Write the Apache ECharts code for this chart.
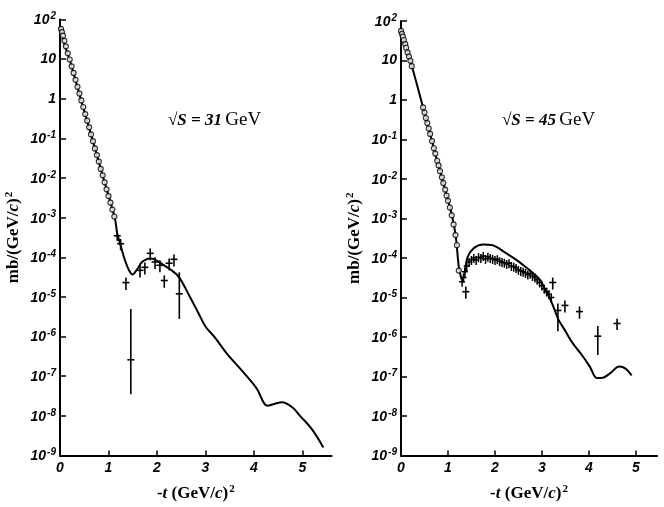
<!DOCTYPE html>
<html>
<head>
<meta charset="utf-8">
<script src="https://cdn.jsdelivr.net/npm/echarts@6/dist/echarts.min.js"></script>
<style>
html,body{margin:0;padding:0;background:#fff;}
#chart{width:664px;height:507px;}
</style>
</head>
<body>
<div id="chart"></div>
<script>
// ---------- data ----------
var xTicks = [0, 1, 2, 3, 4, 5];
var panelTitles = ['31', '45'];

// Left panel (sqrt(s) = 31 GeV): theory curve [t, dsigma/dt]
var curve31 = [
  [0.00, 70], [0.05, 40], [0.10, 22], [0.20, 9.6], [0.45, 0.8], [0.70, 0.07],
  [0.89, 0.0105], [1.13, 0.00098], [1.18, 4.0e-4], [1.25, 2.0e-4], [1.32, 1.0e-4],
  [1.42, 4.8e-5], [1.50, 3.7e-5], [1.59, 5.0e-5], [1.69, 7.6e-5], [1.78, 8.9e-5],
  [1.86, 9.3e-5], [1.96, 8.7e-5], [2.12, 6.6e-5], [2.30, 4.7e-5], [2.45, 3.2e-5],
  [2.68, 1.0e-5], [2.85, 4.0e-6], [3.00, 1.8e-6], [3.20, 9.3e-7], [3.44, 3.7e-7],
  [3.77, 1.3e-7], [4.05, 5.0e-8], [4.28, 1.8e-8], [4.42, 2.0e-8], [4.58, 2.2e-8],
  [4.80, 1.6e-8], [4.95, 1.0e-8], [5.20, 4.5e-9], [5.43, 1.6e-9]
];
// Left panel: open-circle data
var circles31 = [
  [0.02, 58], [0.04, 48], [0.06, 39], [0.09, 29], [0.12, 21], [0.16, 14], [0.20, 9.8],
  [0.24, 6.6], [0.28, 4.5], [0.32, 3.0], [0.36, 2.0], [0.40, 1.35], [0.44, 0.91],
  [0.48, 0.62], [0.52, 0.41], [0.56, 0.28], [0.60, 0.19], [0.64, 0.126], [0.68, 0.085],
  [0.72, 0.056], [0.76, 0.038], [0.80, 0.026], [0.84, 0.017], [0.88, 0.0117],
  [0.92, 0.0078], [0.96, 0.0052], [1.00, 0.0035], [1.04, 0.0024], [1.08, 0.0016],
  [1.12, 0.00107]
];
// Left panel: points with error bars [t, value, low, high]
var errors31 = [
  [1.18, 3.5e-4, 2.6e-4, 4.5e-4], [1.25, 2.2e-4, 1.5e-4, 2.9e-4],
  [1.36, 2.3e-5, 1.5e-5, 3.1e-5], [1.46, 2.6e-7, 3.5e-8, 5.0e-6],
  [1.65, 4.7e-5, 3.1e-5, 6.2e-5], [1.75, 5.6e-5, 3.7e-5, 7.4e-5],
  [1.86, 1.26e-4, 8.4e-5, 1.68e-4], [1.96, 7.6e-5, 5.1e-5, 1.0e-4],
  [2.06, 6.3e-5, 4.2e-5, 8.4e-5], [2.15, 2.6e-5, 1.7e-5, 3.5e-5],
  [2.25, 7.1e-5, 4.7e-5, 9.4e-5], [2.35, 8.9e-5, 5.9e-5, 1.18e-4],
  [2.46, 1.2e-5, 2.8e-6, 4.2e-5]
];

// Right panel (sqrt(s) = 45 GeV): theory curve
var curve45 = [
  [0.00, 56], [0.10, 24], [0.20, 9.8], [0.47, 0.65], [0.62, 0.138], [0.77, 0.029],
  [0.92, 0.0066], [1.09, 0.00112], [1.17, 3.2e-4], [1.23, 6.0e-5], [1.28, 3.2e-5],
  [1.31, 2.7e-5], [1.35, 4.0e-5], [1.42, 1.07e-4], [1.55, 1.78e-4], [1.75, 2.2e-4],
  [1.95, 2.1e-4], [2.20, 1.41e-4], [2.57, 7.1e-5], [2.94, 3.0e-5], [3.05, 1.78e-5],
  [3.20, 7.9e-6], [3.35, 2.8e-6], [3.50, 1.41e-6], [3.65, 7.1e-7], [3.85, 3.5e-7],
  [4.02, 1.78e-7], [4.17, 9.1e-8], [4.30, 9.3e-8], [4.45, 1.2e-7], [4.65, 1.78e-7],
  [4.78, 1.58e-7], [4.91, 1.07e-7]
];
var circles45 = [
  [0.00, 56], [0.02, 47], [0.04, 40], [0.06, 33], [0.09, 26], [0.11, 21], [0.14, 16],
  [0.17, 12.6], [0.20, 9.8], [0.23, 7.2], [0.47, 0.65], [0.50, 0.48], [0.53, 0.35],
  [0.56, 0.26], [0.59, 0.19], [0.62, 0.138], [0.66, 0.091], [0.70, 0.06], [0.73, 0.044],
  [0.77, 0.029], [0.80, 0.022], [0.83, 0.0158], [0.87, 0.011], [0.90, 0.0079],
  [0.94, 0.0054], [0.97, 0.0038], [1.00, 0.0028], [1.04, 0.0019], [1.08, 0.0012],
  [1.12, 7.1e-4], [1.16, 3.8e-4], [1.19, 2.1e-4], [1.23, 4.8e-5]
];
// Right panel: dense small crosses
var crosses45 = [
  [1.30, 2.5e-5], [1.33, 3.2e-5], [1.36, 4.5e-5],
  [1.40, 6.3e-5], [1.45, 7.9e-5], [1.50, 8.9e-5], [1.55, 1.0e-4], [1.60, 8.9e-5],
  [1.65, 1.05e-4], [1.70, 1.0e-4], [1.75, 1.12e-4], [1.80, 9.5e-5], [1.85, 1.07e-4],
  [1.90, 1.0e-4], [1.95, 9.5e-5], [2.00, 8.9e-5], [2.05, 9.3e-5], [2.10, 8.3e-5],
  [2.15, 7.9e-5], [2.20, 7.6e-5], [2.25, 7.1e-5], [2.30, 7.4e-5], [2.35, 6.3e-5],
  [2.40, 6.0e-5], [2.45, 5.6e-5], [2.50, 5.0e-5], [2.55, 4.7e-5], [2.60, 4.5e-5],
  [2.65, 4.2e-5], [2.70, 3.8e-5], [2.75, 4.0e-5], [2.80, 3.5e-5], [2.85, 3.2e-5],
  [2.90, 2.8e-5], [2.95, 2.4e-5], [3.00, 2.0e-5], [3.05, 1.66e-5], [3.10, 1.41e-5],
  [3.15, 1.2e-5], [3.20, 1.0e-5]
];
var errors45 = [
  [1.38, 1.4e-5, 9.3e-6, 1.9e-5], [3.23, 2.4e-5, 1.6e-5, 3.2e-5],
  [3.34, 4.7e-6, 1.4e-6, 7.1e-6], [3.49, 6.3e-6, 4.2e-6, 8.4e-6],
  [3.80, 4.4e-6, 2.9e-6, 5.9e-6], [4.19, 1.05e-6, 3.5e-7, 1.9e-6],
  [4.60, 2.2e-6, 1.5e-6, 2.9e-6]
];

// ---------- chart ----------
var chart = echarts.init(document.getElementById('chart'), null, {renderer: 'canvas'});

var tickFont = 'Liberation Sans';
function yLabel(v) {
  var e = Math.round(Math.log10(v));
  if (e === 0) return '{b|1}';
  if (e === 1) return '{b|10}';
  return '{b|10}{s|' + (e < 0 ? '-' + (-e) : e) + '}';
}
var yRich = {
  b: {fontFamily: tickFont, fontStyle: 'italic', fontWeight: 'bold', fontSize: 14, color: '#000', verticalAlign: 'bottom'},
  s: {fontFamily: tickFont, fontStyle: 'italic', fontWeight: 'bold', fontSize: 10, color: '#000', verticalAlign: 'top', padding: [0, 0, 6, 1]}
};
var nameRich = {
  r: {fontFamily: 'Liberation Serif', fontWeight: 'bold', fontSize: 17, color: '#000'},
  i: {fontFamily: 'Liberation Serif', fontWeight: 'bold', fontStyle: 'italic', fontSize: 17, color: '#000'},
  s: {fontFamily: 'Liberation Serif', fontWeight: 'bold', fontSize: 11, color: '#000', padding: [0, 0, 9, 1]}
};

function makeY(gi) {
  return {
    type: 'log', logBase: 10, gridIndex: gi, min: 1e-9, max: 100,
    interval: 1, splitNumber: 11,
    axisLine: {lineStyle: {color: '#000', width: 2}},
    axisTick: {inside: true, length: 6, lineStyle: {color: '#000', width: 1.5}},
    splitLine: {show: false}, minorTick: {show: false},
    axisLabel: {formatter: yLabel, rich: yRich, margin: 4, showMinLabel: true, showMaxLabel: true},
    name: '{r|mb/(GeV/}{i|c}{r|)}{s|2}',
    nameLocation: 'middle', nameRotate: 90, nameGap: 36,
    nameTextStyle: {rich: nameRich}
  };
}
function makeX(gi, max) {
  return {
    type: 'value', gridIndex: gi, min: 0, max: max,
    axisLine: {lineStyle: {color: '#000', width: 2}},
    axisTick: {inside: true, length: 5, customValues: xTicks, lineStyle: {color: '#000', width: 1.5}},
    splitLine: {show: false},
    axisLabel: {customValues: xTicks, margin: 6, fontFamily: tickFont, fontStyle: 'italic', fontWeight: 'bold', fontSize: 14, color: '#000'},
    name: '{r|-}{i|t}{r| (GeV/}{i|c}{r|)}{s|2}',
    nameLocation: 'middle', nameGap: 28,
    nameTextStyle: {rich: nameRich}
  };
}

function renderDagger(params, api) {
  var p = api.coord([api.value(0), api.value(1)]);
  var pl = api.coord([api.value(0), api.value(2)]);
  var ph = api.coord([api.value(0), api.value(3)]);
  return {type: 'group', children: [
    {type: 'line', shape: {x1: p[0], y1: ph[1], x2: p[0], y2: pl[1]}, style: {stroke: '#000', lineWidth: 1.6}},
    {type: 'line', shape: {x1: p[0] - 3.5, y1: p[1], x2: p[0] + 3.5, y2: p[1]}, style: {stroke: '#000', lineWidth: 1.6}}
  ]};
}
function renderCross(params, api) {
  var p = api.coord([api.value(0), api.value(1)]);
  return {type: 'group', children: [
    {type: 'line', shape: {x1: p[0], y1: p[1] - 4, x2: p[0], y2: p[1] + 5}, style: {stroke: '#000', lineWidth: 1.5}},
    {type: 'line', shape: {x1: p[0] - 3, y1: p[1], x2: p[0] + 3, y2: p[1]}, style: {stroke: '#000', lineWidth: 1.5}}
  ]};
}

function curveSeries(gi, data) {
  return {type: 'line', xAxisIndex: gi, yAxisIndex: gi, data: data, smooth: 0.35,
    symbol: 'none', lineStyle: {color: '#000', width: 2}, z: 3, silent: true};
}
function circleSeries(gi, data) {
  return {type: 'scatter', xAxisIndex: gi, yAxisIndex: gi, data: data, symbol: 'circle', symbolSize: 5,
    itemStyle: {color: '#fff', borderColor: '#000', borderWidth: 1.2}, z: 4, silent: true};
}

var titleRich = {
  a: {fontFamily: 'Liberation Serif', fontWeight: 'bold', fontStyle: 'italic', fontSize: 17, fill: '#000'},
  b: {fontFamily: 'Liberation Serif', fontSize: 19, fill: '#000'}
};

chart.setOption({
  animation: false,
  backgroundColor: '#fff',
  grid: [
    {left: 60, top: 19.5, width: 271.6, height: 438.5},
    {left: 401, top: 21, width: 256, height: 436.5}
  ],
  xAxis: [makeX(0, 5.6), makeX(1, 5.45)],
  yAxis: [makeY(0), makeY(1)],
  graphic: [
    {type: 'text', left: 168, top: 111, style: {text: '{a|√S = ' + panelTitles[0] + '} {b|GeV}', rich: titleRich}},
    {type: 'text', left: 502, top: 111, style: {text: '{a|√S = ' + panelTitles[1] + '} {b|GeV}', rich: titleRich}}
  ],
  series: [
    curveSeries(0, curve31),
    circleSeries(0, circles31),
    {type: 'custom', xAxisIndex: 0, yAxisIndex: 0, data: errors31, renderItem: renderDagger, z: 5, silent: true},
    curveSeries(1, curve45),
    circleSeries(1, circles45),
    {type: 'custom', xAxisIndex: 1, yAxisIndex: 1, data: crosses45, renderItem: renderCross, z: 5, silent: true},
    {type: 'custom', xAxisIndex: 1, yAxisIndex: 1, data: errors45, renderItem: renderDagger, z: 5, silent: true}
  ]
});
</script>
</body>
</html>
